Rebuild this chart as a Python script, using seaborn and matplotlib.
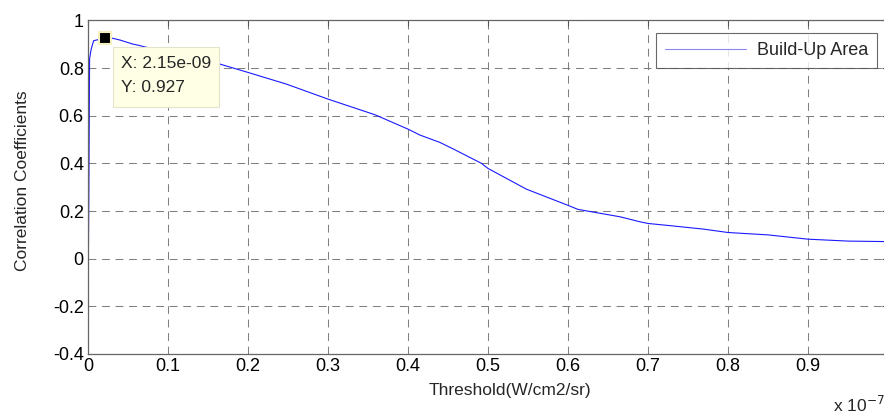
import matplotlib
matplotlib.use("Agg")
import matplotlib.pyplot as plt
import matplotlib.ticker as mticker
from matplotlib.patches import Rectangle
import numpy as np
import pandas as pd
import seaborn as sns

# Threshold in units of 1e-7 W/cm2/sr
threshold = [0.0, 0.001, 0.002, 0.004, 0.007, 0.0215, 0.03, 0.04, 0.055, 0.063,
             0.10, 0.14, 0.165, 0.19, 0.2, 0.248, 0.3, 0.359, 0.4, 0.415,
             0.44, 0.457, 0.492, 0.5, 0.548, 0.6, 0.6125, 0.665, 0.69, 0.7,
             0.73, 0.77, 0.8, 0.85, 0.9, 0.95, 0.995]
corr = [-0.21, 0.25, 0.84, 0.88, 0.915, 0.927, 0.926, 0.918, 0.902, 0.896,
        0.865, 0.835, 0.817, 0.792, 0.782, 0.733, 0.67, 0.604, 0.544, 0.519,
        0.488, 0.46, 0.40, 0.379, 0.292, 0.224, 0.207, 0.176, 0.155, 0.148,
        0.138, 0.124, 0.110, 0.100, 0.082, 0.074, 0.072]
series_name = "Build-Up Area"
x_ticks = [0, 0.1, 0.2, 0.3, 0.4, 0.5, 0.6, 0.7, 0.8, 0.9]
y_ticks = [-0.4, -0.2, 0, 0.2, 0.4, 0.6, 0.8, 1]
tip_x, tip_y = 0.0215, 0.927
tip_text = ["X: 2.15e-09", "Y: 0.927"]

sns.set_theme(style="white")
plt.rcParams['font.family'] = ['Liberation Sans', 'DejaVu Sans']

W, H = 884, 419
fig = plt.figure(figsize=(W / 100, H / 100), dpi=100)
left, right, top, bottom = 88, 888, 20.5, 354
ax = fig.add_axes([left / W, 1 - bottom / H, (right - left) / W, (bottom - top) / H])

df = pd.DataFrame({"Threshold": threshold, "Corr": corr})
sns.lineplot(data=df, x="Threshold", y="Corr", ax=ax, color="#1a1aff",
             linewidth=0.8, label=series_name, sort=False, estimator=None)

ax.set_xlim(0, 1.0)
ax.set_ylim(-0.4, 1.0)
ax.set_xticks(x_ticks)
ax.set_yticks(y_ticks)
fmt = mticker.FuncFormatter(lambda v, p: "%g" % round(v, 3))
ax.xaxis.set_major_formatter(fmt)
ax.yaxis.set_major_formatter(fmt)
ax.tick_params(axis="both", which="both", direction="in", length=4, width=0.8,
               color="#555555", labelsize=13, top=True, right=True,
               labelcolor="black", pad=3)
for s in ax.spines.values():
    s.set_color("#666666")
    s.set_linewidth(0.9)
    s.set_visible(True)

ax.grid(True, color="#808080", linestyle=(0, (7.5, 5.5)), linewidth=0.75)

ax.set_xlabel("Threshold(W/cm2/sr)", fontsize=12.5)
ax.set_ylabel("Correlation Coefficients", fontsize=12.5)
ax.xaxis.set_label_coords((510 - left) / (right - left), -0.087)
ax.yaxis.set_label_coords(-0.073, 0.52)

fig.text(833 / W, 1 - 405 / H, "x 10$^{-7}$", fontsize=12.5, va="center", ha="left")

# legend
leg = ax.legend(loc="upper right", bbox_to_anchor=((877 - left) / (right - left), (bottom - 33) / (bottom - top)),
                frameon=True, fancybox=False, fontsize=13, handlelength=4.5,
                borderpad=0.5, handletextpad=0.6, borderaxespad=0)
leg.get_frame().set_edgecolor("#444444")
leg.get_frame().set_linewidth(0.8)
for ln in leg.get_lines():
    ln.set_color("#8888ee")
    ln.set_linewidth(0.8)

# data tip
ax.add_patch(Rectangle(((113 - left) / (right - left), (bottom - 107) / (bottom - top)),
                       106 / (right - left), 60 / (bottom - top), transform=ax.transAxes,
                       facecolor="#FFFFE6", edgecolor="#E4E4CC", linewidth=0.8, zorder=5))
ax.text((121 - left) / (right - left), (bottom - 64) / (bottom - top), tip_text[0],
        transform=ax.transAxes, fontsize=12.5, va="center", ha="left", zorder=6)
ax.text((121 - left) / (right - left), (bottom - 88) / (bottom - top), tip_text[1],
        transform=ax.transAxes, fontsize=12.5, va="center", ha="left", zorder=6)
ax.plot([tip_x], [tip_y], marker="s", markersize=8, color="black",
        markeredgecolor="#F5F0C0", markeredgewidth=1.5, zorder=7, clip_on=False)

fig.savefig("out.png", dpi=100)
